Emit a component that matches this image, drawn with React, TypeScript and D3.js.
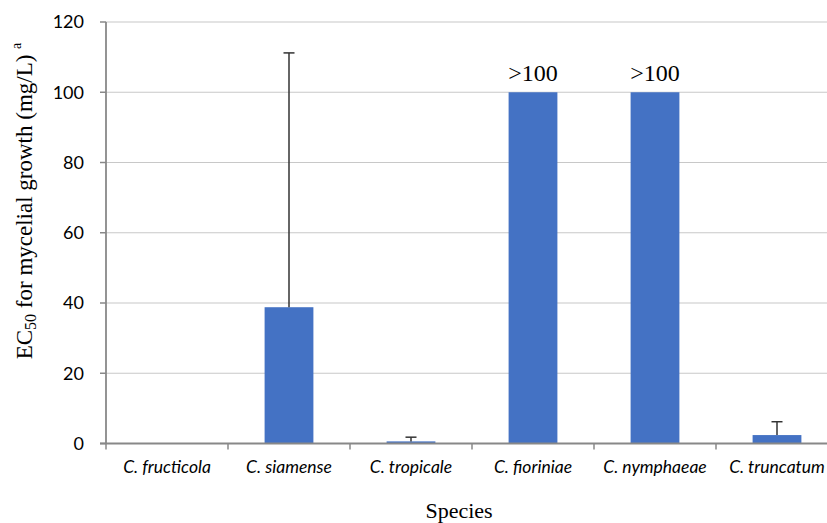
import React from "react";
import * as d3 from "d3";

const species = ["C. fructicola", "C. siamense", "C. tropicale", "C. fioriniae", "C. nymphaeae", "C. truncatum"];
const ec50 = [0, 38.8, 0.6, 100, 100, 2.4];
const errUpper = [null, 111.2, 1.8, null, null, 6.2];
const barLabels = ["", "", "", ">100", ">100", ""];
const yTicks = [0, 20, 40, 60, 80, 100, 120];

const W = 827;
const H = 523;
const left = 106;
const bandW = 122;
const top = 22;
const bottom = 443.5;
const SERIF = "Liberation Serif";
const SANS = "Lato";

export default function App() {
  const x = d3
    .scaleBand<string>()
    .domain(species)
    .range([left, left + bandW * species.length])
    .paddingInner(0.6)
    .paddingOuter(0.3);
  const y = d3.scaleLinear().domain([0, 120]).range([bottom, top]);
  const bw = x.bandwidth();
  const step = x.step();
  const boundaries = d3.range(species.length + 1).map((i) => left + i * step);

  return (
    <svg
      width={W}
      height={H}
      style={{ position: "absolute", left: 0, top: 0, display: "block", background: "#fff" }}
    >
      {yTicks.map((t) => (
        <line key={"g" + t} x1={left} x2={W} y1={y(t)} y2={y(t)} stroke="#c8c8c8" strokeWidth={1.2} />
      ))}
      {yTicks.map((t) => (
        <line key={"yt" + t} x1={100} x2={left} y1={y(t)} y2={y(t)} stroke="#888" strokeWidth={1.5} />
      ))}
      {yTicks.map((t) => (
        <text
          key={"yl" + t}
          x={84}
          y={y(t)}
          dy="0.36em"
          textAnchor="end"
          style={{ fontFamily: SANS }}
          fontSize={18}
          fill="#000"
        >
          {t}
        </text>
      ))}
      {species.map((s, i) =>
        ec50[i] > 0 ? (
          <rect key={"b" + s} x={x(s)} y={y(ec50[i])} width={bw} height={y(0) - y(ec50[i])} fill="#4472c4" />
        ) : null
      )}
      {species.map((s, i) => {
        const e = errUpper[i];
        if (e == null) return null;
        const cx = (x(s) as number) + bw / 2;
        return (
          <g key={"e" + s} stroke="#333" strokeWidth={1.5}>
            <line x1={cx} x2={cx} y1={y(ec50[i])} y2={y(e)} />
            <line x1={cx - 5.5} x2={cx + 5.5} y1={y(e)} y2={y(e)} />
          </g>
        );
      })}
      {species.map((s, i) =>
        barLabels[i] ? (
          <text
            key={"bl" + s}
            x={(x(s) as number) + bw / 2}
            y={y(ec50[i]) - 11.5}
            textAnchor="middle"
            style={{ fontFamily: SERIF }}
            fontSize={24}
            fill="#000"
          >
            {barLabels[i]}
          </text>
        ) : null
      )}
      <line x1={left} x2={left} y1={top} y2={bottom} stroke="#888" strokeWidth={1.8} />
      <line x1={100} x2={W} y1={bottom} y2={bottom} stroke="#888" strokeWidth={1.8} />
      {boundaries.map((b, i) => (
        <line key={"xt" + i} x1={b} x2={b} y1={bottom} y2={bottom + 6} stroke="#888" strokeWidth={1.5} />
      ))}
      {species.map((s) => (
        <text
          key={"xl" + s}
          x={(x(s) as number) + bw / 2}
          y={473}
          textAnchor="middle"
          style={{ fontFamily: SANS, fontStyle: "italic" }}
          fontSize={17.5}
          fill="#000"
        >
          {s}
        </text>
      ))}
      <text
        x={459}
        y={518}
        textAnchor="middle"
        style={{ fontFamily: SERIF }}
        fontSize={22}
        fill="#000"
      >
        Species
      </text>
      <text
        transform={`translate(32, 201) rotate(-90)`}
        textAnchor="middle"
        style={{ fontFamily: SERIF }}
        fontSize={23}
        fill="#000"
      >
        EC
        <tspan fontSize={16} dy={4}>50</tspan>
        <tspan dy={-4}> for mycelial growth (mg/L) </tspan>
        <tspan fontSize={14} dy={-11}>a</tspan>
      </text>
    </svg>
  );
}
